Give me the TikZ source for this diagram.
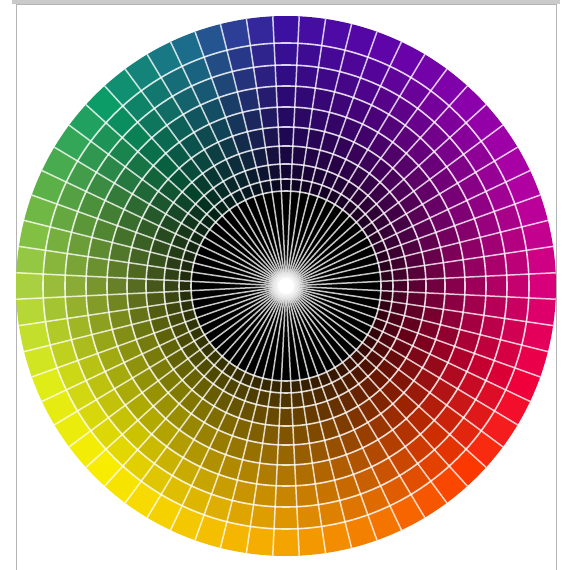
\documentclass[tikz,border=0pt]{standalone}
\usetikzlibrary{calc}
\definecolor{hc0}{HTML}{D8007A}
\definecolor{hc1}{HTML}{B000A2}
\definecolor{hc2}{HTML}{8A00AA}
\definecolor{hc3}{HTML}{5E04A8}
\definecolor{hc4}{HTML}{3C10A0}
\definecolor{hc5}{HTML}{1C6C8C}
\definecolor{hc6}{HTML}{0C9C68}
\definecolor{hc7}{HTML}{5CB048}
\definecolor{hc8}{HTML}{A8D040}
\definecolor{hc9}{HTML}{E0EC18}
\definecolor{hc10}{HTML}{F8EC00}
\definecolor{hc11}{HTML}{F4C800}
\definecolor{hc12}{HTML}{F4A400}
\definecolor{hc13}{HTML}{F47400}
\definecolor{hc14}{HTML}{FA3800}
\definecolor{hc15}{HTML}{F0003A}
\definecolor{framegray}{HTML}{B4B4B4}
\tikzset{
  gridline/.style={draw=white, draw opacity=0.82, line width=1.6pt},
  spokeline/.style={draw=white, draw opacity=0.78, line width=1.5pt},
  glowdisc/.style={fill=white, fill opacity=0.18},
}
\begin{document}
\begin{tikzpicture}[x=1pt,y=1pt]
\useasboundingbox (0,0) rectangle (562,570);
\fill[white] (0,0) rectangle (562,570);
% top shadow band and panel border
\fill[framegray!70] (12,566) rectangle (560,570);
\draw[framegray, line width=1pt] (16.5,0) -- (16.5,565.5) -- (556.5,565.5) -- (556.5,0);
\begin{scope}[shift={(286,284)}]
  \foreach \k in {0,...,63}{
    \pgfmathtruncatemacro{\j}{floor(\k/4)}
    \pgfmathtruncatemacro{\m}{mod(\k,4)}
    \pgfmathtruncatemacro{\jn}{mod(\j+1,16)}
    \pgfmathtruncatemacro{\w}{100-25*\m}
    \pgfmathsetmacro{\aa}{\k*5.625-2.9}
    \pgfmathsetmacro{\ab}{\k*5.625+2.9}
    \colorlet{basecol}{hc\j!\w!hc\jn}
    \foreach \ro/\ri/\f in {270/243/100, 243/221/91, 221/200/82, 200/179/72, 179/159/62, 159/140/52, 140/122/42, 122/107/32, 107/94/22}{
      \fill[basecol!\f!black] (\aa:\ri) -- (\aa:\ro) arc[start angle=\aa, end angle=\ab, radius=\ro] -- (\ab:\ri) arc[start angle=\ab, end angle=\aa, radius=\ri] -- cycle;
    }
  }
  \fill[black] (0,0) circle[radius=95];
  \foreach \r in {243,221,200,179,159,140,122,107,95}{
    \draw[gridline] (0,0) circle[radius=\r];
  }
  \foreach \k in {0,...,63}{
    \pgfmathsetmacro{\a}{\k*5.625+2.8125}
    \draw[spokeline] (0,0) -- (\a:270);
  }
  \foreach \r in {18,16,14,12,10}{
    \fill[glowdisc] (0,0) circle[radius=\r];
  }
  \fill[white] (0,0) circle[radius=8];
\end{scope}
\end{tikzpicture}
\end{document}
